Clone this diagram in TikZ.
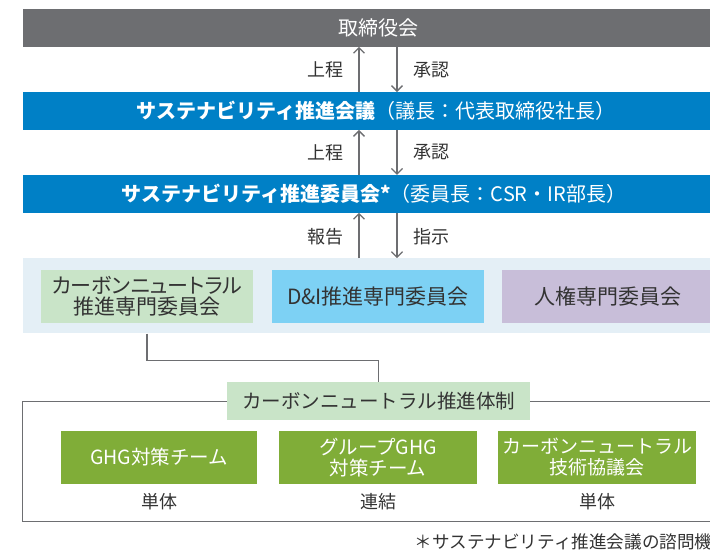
\documentclass[tikz,border=0pt]{standalone}
\usepackage{fontspec}
\setmainfont{Noto Sans CJK JP}
\newfontfamily\jpp[RawFeature=+palt]{Noto Sans CJK JP}
\usetikzlibrary{arrows.meta}
\definecolor{barGray}{HTML}{6D6E71}
\definecolor{barBlue}{HTML}{0080C6}
\definecolor{bandBlue}{HTML}{E4EFF6}
\definecolor{lGreen}{HTML}{C9E4C8}
\definecolor{skyBlue}{HTML}{7DD1F4}
\definecolor{lavender}{HTML}{C8BED9}
\definecolor{dGreen}{HTML}{80AD38}
\definecolor{txtDark}{HTML}{333333}
\definecolor{lineGray}{HTML}{6D6E71}
\begin{document}
\begin{tikzpicture}[x=1pt,y=-1pt,
  bar/.style={rectangle, draw=none, minimum width=711pt, minimum height=37.5pt, inner sep=0pt, text=white, font=\fontsize{20}{24}\selectfont},
  bandbox/.style={rectangle, draw=none, minimum width=212pt, minimum height=52.7pt, inner sep=0pt, align=center, text=txtDark, font=\fontsize{21}{21}\selectfont},
  teambox/.style={rectangle, draw=none, fill=dGreen, minimum height=53pt, inner sep=0pt, align=center, text=white, font=\fontsize{19.5}{21}\selectfont},
  lbl/.style={inner sep=0pt, text=txtDark, font=\fontsize{18}{18}\selectfont},
  arr/.style={draw=lineGray, line width=1.3pt, -{Straight Barb[length=5.5pt,width=11pt]}},
  conn/.style={draw=lineGray, line width=1.3pt},
]
\useasboundingbox (0,0) rectangle (710,554);
\clip (0,0) rectangle (710,554);

% top bars
\node[bar, fill=barGray] (b0) at (378,27.85) {取締役会};
\node[bar, fill=barBlue] (b1) at (378,111) {{\bfseries サステナビリティ推進会議}（議長：代表取締役社長）\hspace*{4pt}};
\node[bar, fill=barBlue] (b2) at (378,193.85) {{\bfseries サステナビリティ推進委員会*}（委員長：CSR・IR部長）\hspace*{8pt}};

% band with committees
\node[rectangle, draw=none, fill=bandBlue, minimum width=711pt, minimum height=75pt, inner sep=0pt] (band) at (378,295.8) {};
\node[bandbox, fill=lGreen] (k1) at (147,296.35) {{\jpp カーボンニュートラル}\\推進専門委員会};
\node[bandbox, fill=skyBlue] (k2) at (378,296.35) {D\&I推進専門委員会};
\node[bandbox, fill=lavender] (k3) at (608,296.35) {人権専門委員会};

% arrows and labels
\draw[arr] ([xshift=-19pt]b1.north) -- ([xshift=-19pt]b0.south);
\draw[arr] ([xshift=19pt]b0.south) -- ([xshift=19pt]b1.north);
\draw[arr] ([xshift=-19pt]b2.north) -- ([xshift=-19pt]b1.south);
\draw[arr] ([xshift=19pt]b1.south) -- ([xshift=19pt]b2.north);
\draw[arr] ([xshift=-19pt]band.north) -- ([xshift=-19pt]b2.south);
\draw[arr] ([xshift=19pt]b2.south) -- ([xshift=19pt]band.north);
\node[lbl] (l1) at (325.5,70) {上程};
\node[lbl] (r1) at (431,70) {承認};
\node[lbl] (l2) at (325.5,152.5) {上程};
\node[lbl] (r2) at (431,152.5) {承認};
\node[lbl] (l3) at (325.5,236.5) {報告};
\node[lbl] (r3) at (431,236.5) {指示};

% lower frame
\node[rectangle, draw=lineGray, line width=1.3pt, minimum width=710.6pt, minimum height=120pt, inner sep=0pt] (fr) at (378,461.7) {};
\node[rectangle, draw=none, fill=lGreen, minimum width=303pt, minimum height=38.3pt, inner sep=0pt, text=txtDark, font=\fontsize{19.5}{19.5}\selectfont] (cn) at (378.5,400.85) {カーボンニュートラル推進体制};
\coordinate (cj) at (0,360.7);
\draw[conn] (k1.south |- band.south) -- (k1.south |- cj) -| (cn.north);

\node[teambox, minimum width=196pt] (g1) at (159,457.5) {GHG対策チーム};
\node[teambox, minimum width=198pt] (g2) at (378,457.5) {グループGHG\\対策チーム};
\node[teambox, minimum width=198pt, font=\fontsize{19}{21}\selectfont] (g3) at (597,457.5) {カーボンニュートラル\\技術協議会};
\node[lbl] (u1) at (159,502) {単体};
\node[lbl] (u2) at (378,502) {連結};
\node[lbl] (u3) at (597,502) {単体};

\node[lbl, anchor=west, font=\fontsize{17.6}{17.6}\selectfont] (fn) at (414.5,541.7) {＊サステナビリティ推進会議の諮問機};
\end{tikzpicture}
\end{document}
